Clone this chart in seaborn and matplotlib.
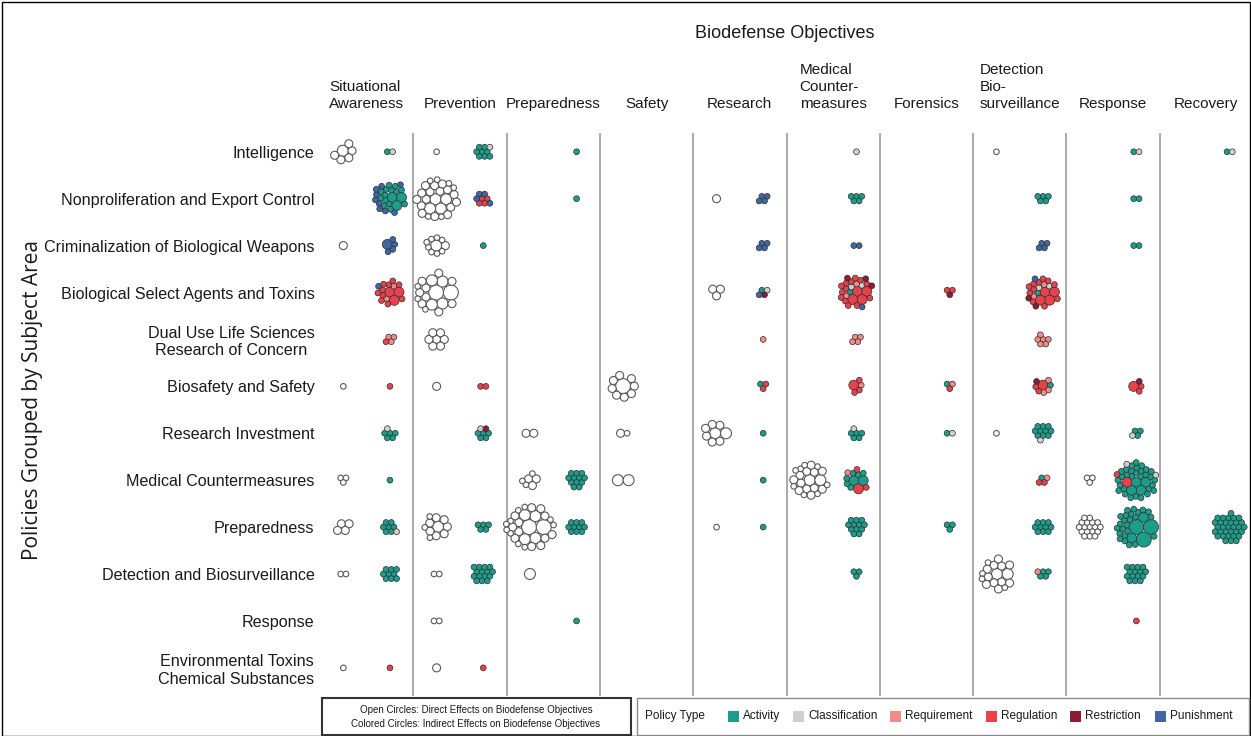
import numpy as np
import pandas as pd
import matplotlib
matplotlib.use("Agg")
import matplotlib.pyplot as plt
import seaborn as sns
from matplotlib.patches import Rectangle

# ---------------- data ----------------
rows = ["Intelligence", "Nonproliferation and Export Control",
        "Criminalization of Biological Weapons", "Biological Select Agents and Toxins",
        "Dual Use Life Sciences\nResearch of Concern", "Biosafety and Safety",
        "Research Investment", "Medical Countermeasures", "Preparedness",
        "Detection and Biosurveillance", "Response",
        "Environmental Toxins\nChemical Substances"]
objectives = ["Situational\nAwareness", "Prevention", "Preparedness", "Safety", "Research",
              "Medical\nCounter-\nmeasures", "Forensics", "Detection\nBio-\nsurveillance",
              "Response", "Recovery"]
policy_types = ["Activity", "Classification", "Requirement", "Regulation", "Restriction", "Punishment"]
type_colors = ["#1a9e8b", "#cfcfcf", "#f08c85", "#e8414b", "#8e1b36", "#3e67a3"]

# direct effects (open circles): (row, objective, n_small, n_medium, n_large, n_xlarge)
direct_cells = [
    (0, 0, 0, 5, 1, 0), (0, 1, 1, 0, 0, 0), (0, 7, 1, 0, 0, 0),
    (1, 1, 6, 16, 4, 0), (1, 4, 0, 1, 0, 0),
    (2, 0, 0, 1, 0, 0), (2, 1, 8, 1, 1, 0),
    (3, 1, 3, 9, 4, 2), (3, 4, 0, 3, 0, 0),
    (4, 1, 0, 7, 0, 0),
    (5, 0, 1, 0, 0, 0), (5, 1, 0, 1, 0, 0), (5, 3, 0, 8, 0, 1),
    (6, 2, 0, 2, 0, 0), (6, 3, 1, 1, 0, 0), (6, 4, 0, 6, 2, 0), (6, 7, 1, 0, 0, 0),
    (7, 0, 3, 0, 0, 0), (7, 2, 3, 3, 0, 0), (7, 3, 0, 0, 2, 0), (7, 5, 8, 12, 2, 0), (7, 8, 3, 0, 0, 0),
    (8, 0, 0, 4, 0, 0), (8, 1, 3, 7, 1, 0), (8, 2, 10, 12, 4, 2), (8, 4, 1, 0, 0, 0), (8, 8, 18, 0, 0, 0),
    (9, 0, 2, 0, 0, 0), (9, 1, 2, 0, 0, 0), (9, 2, 0, 0, 1, 0), (9, 7, 4, 11, 2, 0),
    (10, 1, 2, 0, 0, 0),
    (11, 0, 1, 0, 0, 0), (11, 1, 0, 1, 0, 0),
]

# indirect effects (coloured circles): (row, objective, policy type, n_small, n_large, n_xlarge)
indirect_cells = [
    (0, 0, 0, 1, 0, 0), (0, 0, 1, 1, 0, 0), (0, 1, 0, 8, 0, 0), (0, 1, 1, 1, 0, 0),
    (0, 2, 0, 1, 0, 0), (0, 5, 1, 1, 0, 0), (0, 8, 0, 1, 0, 0), (0, 8, 1, 1, 0, 0),
    (0, 9, 0, 1, 0, 0), (0, 9, 1, 1, 0, 0),
    (1, 0, 0, 14, 3, 0), (1, 0, 5, 9, 0, 0), (1, 1, 3, 4, 0, 0), (1, 1, 5, 4, 0, 0),
    (1, 2, 0, 1, 0, 0), (1, 4, 5, 4, 0, 0), (1, 5, 0, 5, 0, 0), (1, 7, 0, 5, 0, 0), (1, 8, 0, 2, 0, 0),
    (2, 0, 5, 4, 1, 0), (2, 1, 0, 1, 0, 0), (2, 4, 5, 4, 0, 0), (2, 5, 5, 2, 0, 0),
    (2, 7, 5, 4, 0, 0), (2, 8, 0, 2, 0, 0),
    (3, 0, 3, 10, 3, 0), (3, 0, 2, 2, 0, 0), (3, 0, 5, 1, 0, 0),
    (3, 4, 0, 1, 0, 0), (3, 4, 1, 1, 0, 0), (3, 4, 4, 1, 0, 0), (3, 4, 5, 1, 0, 0),
    (3, 5, 3, 13, 4, 0), (3, 5, 4, 3, 0, 0), (3, 5, 5, 1, 0, 0), (3, 5, 0, 1, 0, 0),
    (3, 5, 2, 2, 0, 0), (3, 5, 1, 2, 0, 0),
    (3, 6, 3, 2, 0, 0), (3, 6, 4, 1, 0, 0),
    (3, 7, 3, 11, 4, 0), (3, 7, 4, 2, 0, 0), (3, 7, 0, 1, 0, 0), (3, 7, 5, 1, 0, 0),
    (3, 7, 1, 2, 0, 0), (3, 7, 2, 2, 0, 0),
    (4, 0, 2, 3, 0, 0), (4, 0, 3, 1, 0, 0), (4, 4, 2, 1, 0, 0), (4, 5, 2, 4, 0, 0), (4, 7, 2, 6, 0, 0),
    (5, 0, 3, 1, 0, 0), (5, 1, 3, 2, 0, 0), (5, 4, 0, 1, 0, 0), (5, 4, 3, 2, 0, 0),
    (5, 5, 3, 3, 1, 0), (5, 5, 2, 1, 0, 0), (5, 6, 0, 1, 0, 0), (5, 6, 3, 1, 0, 0), (5, 6, 2, 1, 0, 0),
    (5, 7, 3, 2, 1, 0), (5, 7, 2, 3, 0, 0), (5, 7, 0, 1, 0, 0), (5, 7, 4, 1, 0, 0),
    (5, 8, 3, 2, 1, 0), (5, 8, 4, 1, 0, 0),
    (6, 0, 0, 5, 0, 0), (6, 0, 1, 1, 0, 0), (6, 1, 0, 5, 0, 0), (6, 1, 4, 1, 0, 0), (6, 1, 1, 1, 0, 0),
    (6, 4, 0, 1, 0, 0), (6, 5, 0, 5, 0, 0), (6, 5, 1, 1, 0, 0), (6, 6, 0, 1, 0, 0), (6, 6, 1, 1, 0, 0),
    (6, 7, 0, 10, 0, 0), (6, 7, 1, 1, 0, 0), (6, 8, 0, 3, 0, 0), (6, 8, 1, 1, 0, 0),
    (7, 0, 0, 1, 0, 0), (7, 2, 0, 12, 0, 0), (7, 4, 0, 1, 0, 0),
    (7, 5, 0, 6, 2, 0), (7, 5, 3, 2, 1, 0), (7, 5, 2, 1, 0, 0),
    (7, 7, 0, 1, 0, 0), (7, 7, 3, 2, 0, 0), (7, 7, 2, 1, 0, 0),
    (7, 8, 0, 30, 4, 0), (7, 8, 3, 1, 1, 0), (7, 8, 1, 2, 0, 0),
    (8, 0, 0, 7, 0, 0), (8, 0, 1, 1, 0, 0), (8, 1, 0, 5, 0, 0), (8, 2, 0, 10, 0, 0),
    (8, 4, 0, 1, 0, 0), (8, 5, 0, 12, 0, 0), (8, 6, 0, 3, 0, 0), (8, 7, 0, 10, 0, 0),
    (8, 8, 0, 24, 2, 3), (8, 9, 0, 32, 0, 0),
    (9, 0, 0, 9, 0, 0), (9, 1, 0, 15, 0, 0), (9, 5, 0, 3, 0, 0), (9, 7, 0, 4, 0, 0),
    (9, 7, 2, 1, 0, 0), (9, 8, 0, 15, 0, 0),
    (10, 2, 0, 1, 0, 0), (10, 8, 3, 1, 0, 0),
    (11, 0, 3, 1, 0, 0), (11, 1, 3, 1, 0, 0),
]

# ---------------- figure ----------------
W, H = 1251, 736
DPI = 100
sns.set_theme(style="white")
plt.rcParams["font.family"] = ["Liberation Sans", "DejaVu Sans"]

fig = plt.figure(figsize=(W / DPI, H / DPI), dpi=DPI)
ax_l, ax_r, ax_t, ax_b = 320, 1253, 133, 696
ax = fig.add_axes([ax_l / W, (H - ax_b) / H, (ax_r - ax_l) / W, (ax_b - ax_t) / H])
ax.set_xlim(0, 10)
ax.set_ylim(11.6, -0.4)
ppx = (ax_r - ax_l) / 10.0
ppy = (ax_b - ax_t) / 12.0

DIR_R = {"s": 2.8, "m": 4.0, "l": 5.5, "x": 7.5}
IND_R = {"s": 2.9, "l": 5.0, "x": 7.5}


def pack(radii, gap=0.0):
    placed = []
    angles = np.linspace(0, 2 * np.pi, 60, endpoint=False)
    for r in radii:
        if not placed:
            placed.append((0.0, 0.0, r))
            continue
        P = np.array(placed)
        w = P[:, 2] ** 2
        gx = (P[:, 0] * w).sum() / w.sum()
        gy = (P[:, 1] * w).sum() / w.sum()
        best = None
        for (px, py, pr) in placed:
            d = pr + r + gap
            cx = px + d * np.cos(angles)
            cy = py + d * np.sin(angles)
            dist2 = (cx[:, None] - P[:, 0]) ** 2 + (cy[:, None] - P[:, 1]) ** 2
            ok = np.all(dist2 >= (P[:, 2] + r + gap - 1e-6) ** 2, axis=1)
            if ok.any():
                dd = ((cx[ok] - gx) ** 2 + (cy[ok] - gy) ** 2
                      + 0.3 * (cx[ok] ** 2 + cy[ok] ** 2) + 0.15 * cy[ok] ** 2)
                dd = np.round(dd, 4)
                k = np.argmin(dd)
                if best is None or dd[k] < best[0] - 1e-9:
                    best = (dd[k], cx[ok][k], cy[ok][k])
        placed.append((best[1], best[2], r))
    P = np.array(placed)
    xmin = (P[:, 0] - P[:, 2]).min(); xmax = (P[:, 0] + P[:, 2]).max()
    ymin = (P[:, 1] - P[:, 2]).min(); ymax = (P[:, 1] + P[:, 2]).max()
    P[:, 0] -= (xmin + xmax) / 2
    P[:, 1] -= (ymin + ymax) / 2
    return P


# direct circles
recs = []
for (r, c, ns, nm, nl, nx) in direct_cells:
    codes = ["x"] * nx + ["l"] * nl + ["m"] * nm + ["s"] * ns
    P = pack([DIR_R[k] for k in codes], gap=-0.3)
    for (dx, dy, _), k in zip(P, codes):
        recs.append(dict(x=c + 0.25 + dx / ppx, y=r + dy / ppy, rcode=k))
df_dir = pd.DataFrame(recs)

# indirect circles
cells = {}
for (r, c, t, ns, nl, nx) in indirect_cells:
    lst = cells.setdefault((r, c), [])
    lst += [("x", t)] * nx + [("l", t)] * nl + [("s", t)] * ns
recs = []
for (r, c), lst in cells.items():
    lst = sorted(lst, key=lambda e: (-IND_R[e[0]], e[1]))
    P = pack([IND_R[k] for k, _ in lst], gap=-0.5)
    for (dx, dy, _), (k, t) in zip(P, lst):
        recs.append(dict(x=c + 0.75 + dx / ppx, y=r + dy / ppy, rcode="i" + k,
                         ptype=policy_types[t]))
df_ind = pd.DataFrame(recs)


def area(rpx):
    return (2 * rpx * 72.0 / DPI) ** 2


for i in range(1, 10):
    ax.axvline(i, color="#a3a3a3", lw=1.3, zorder=0)

sns.scatterplot(data=df_dir, x="x", y="y", size="rcode",
                sizes={k: area(v) for k, v in DIR_R.items()},
                color="white", edgecolor="#5a5a5a", linewidth=0.8, legend=False, ax=ax, zorder=3)
sns.scatterplot(data=df_ind, x="x", y="y", hue="ptype", hue_order=policy_types,
                palette=dict(zip(policy_types, type_colors)), size="rcode",
                sizes={"i" + k: area(v) for k, v in IND_R.items()},
                edgecolor="#2e2e2e", linewidth=0.5, legend=False, ax=ax, zorder=3)

ax.set_xlim(0, 10)
ax.set_ylim(11.6, -0.4)
for s in ax.spines.values():
    s.set_visible(False)
ax.grid(False)
ax.set_xlabel("")
ax.set_ylabel("")

ax.set_yticks(range(len(rows)))
ax.set_yticklabels(rows)
ax.tick_params(axis="y", length=0, pad=4, labelsize=11.6, labelcolor="#1a1a1a")
for t in ax.get_yticklabels():
    t.set_multialignment("center")

ax.xaxis.tick_top()
ax.set_xticks(np.arange(10) + 0.5)
ax.set_xticklabels(objectives)
ax.tick_params(axis="x", length=0, pad=16, labelsize=11, labelcolor="#1a1a1a")
for t in ax.get_xticklabels():
    t.set_multialignment("left")
    t.set_linespacing(1.25)

fig.text(785 / W, 1 - 33 / H, "Biodefense Objectives", ha="center", va="center",
         fontsize=13, color="#1a1a1a")
fig.text(33 / W, 1 - 400 / H, "Policies Grouped by Subject Area", rotation=90,
         ha="center", va="center", fontsize=15, color="#1a1a1a",
         family=["Open Sans", "DejaVu Sans"])

# outer border
fig.patches.append(Rectangle((1.5 / W, 0.5 / H), (W - 3) / W, (H - 2) / H, transform=fig.transFigure,
                             fill=False, ec="black", lw=1.0))

# legend boxes
def px_rect(x0, y0, x1, y1, **kw):
    fig.patches.append(Rectangle((x0 / W, 1 - y1 / H), (x1 - x0) / W, (y1 - y0) / H,
                                 transform=fig.transFigure, **kw))

px_rect(322, 698, 631, 735, fill=True, fc="white", ec="#333333", lw=1.5)
px_rect(637, 698, 1249, 735, fill=True, fc="white", ec="#8a8a8a", lw=1.0)
fig.text(476 / W, 1 - 710 / H, "Open Circles: Direct Effects on Biodefense Objectives",
         ha="center", va="center", fontsize=7, color="#1a1a1a")
fig.text(476 / W, 1 - 724 / H, "Colored Circles: Indirect Effects on Biodefense Objectives",
         ha="center", va="center", fontsize=7, color="#1a1a1a")
fig.text(645 / W, 1 - 716 / H, "Policy Type", ha="left", va="center", fontsize=8.5, color="#1a1a1a")
sq_x = [728, 793, 890, 986, 1070, 1155]
for xx, lab, col in zip(sq_x, policy_types, type_colors):
    px_rect(xx, 711, xx + 11, 722, fill=True, fc=col, ec="none")
    fig.text((xx + 15) / W, 1 - 716 / H, lab, ha="left", va="center", fontsize=8.5, color="#1a1a1a")

fig.savefig("out.png", dpi=DPI)
